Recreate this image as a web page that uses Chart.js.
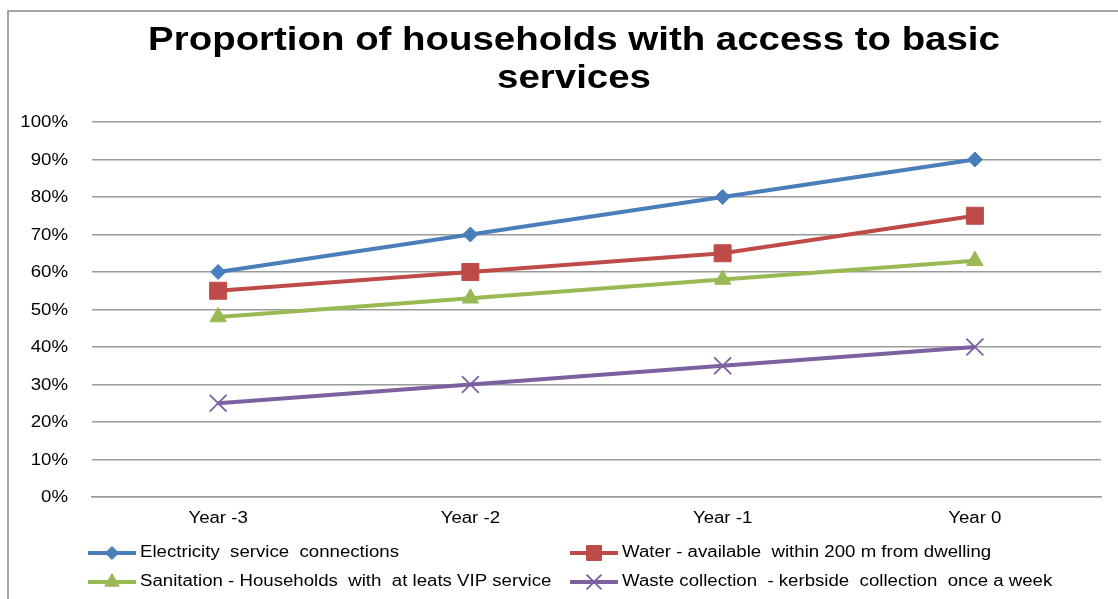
<!DOCTYPE html>
<html>
<head>
<meta charset="utf-8">
<script src="https://cdn.jsdelivr.net/npm/chart.js@4"></script>
<style>
	html, body { margin: 0; padding: 0; background: #fff; overflow: hidden; }
	#wrap { position: absolute; left: 0; top: 0; width: 1118px; height: 599px; }
	#frame { position: absolute; left: 7px; top: 10px; width: 1200px; height: 700px; border-left: 2px solid #a6a6a6; border-top: 2px solid #a6a6a6; }
</style>
</head>
<body>
<div id="frame"></div>
<div id="wrap"><canvas id="chart" width="1118" height="599"></canvas></div>
<script>
// categories and series
let years = ['Year -3', 'Year -2', 'Year -1', 'Year 0'];
let electricity = [60, 70, 80, 90];
let water = [55, 60, 65, 75];
let sanitation = [48, 53, 58, 63];
let waste = [25, 30, 35, 40];
let yTicks = [0, 10, 20, 30, 40, 50, 60, 70, 80, 90, 100];

let titleLines = ['Proportion of households with access to basic', 'services'];
let seriesLabels = [
	'Electricity  service  connections',
	'Water - available  within 200 m from dwelling',
	'Sanitation - Households  with  at leats VIP service',
	'Waste collection  - kerbside  collection  once a week'
];

let FONT = "'Liberation Sans', Arial, sans-serif";
// the original picture is squeezed a little, so its text runs wider than normal
let STRETCH = 1.165;

function series(label, data, color, style, radius, extra)
{
	return Object.assign({
		label: label,
		data: data,
		borderColor: color,
		backgroundColor: color,
		pointBackgroundColor: color,
		pointBorderColor: color,
		borderWidth: 4,
		pointStyle: style,
		pointRadius: radius,
		pointHoverRadius: radius,
		pointBorderWidth: 1,
		tension: 0
	}, extra || {});
}

function wideText(ctx, text, x, y, align, font, stretch)
{
	ctx.save();
	ctx.font = font;
	ctx.fillStyle = '#000';
	ctx.textAlign = align;
	ctx.textBaseline = 'middle';
	ctx.scale(stretch, 1);
	ctx.fillText(text, x / stretch, y);
	ctx.restore();
}

// title, tick labels and a two column legend, drawn with a horizontal stretch
let textLayer = {
	id: 'textLayer',
	afterDraw: function(chart)
	{
		let ctx = chart.ctx;

		titleLines.forEach((t, i) => {
			wideText(ctx, t, 574, 41 + i * 38, 'center', 'bold 34px ' + FONT, 1.13);
		});

		let ys = chart.scales.y;
		yTicks.forEach((v) => {
			wideText(ctx, v + '%', 68, ys.getPixelForValue(v) + 1, 'right', '16px ' + FONT, STRETCH);
		});

		let xs = chart.scales.x;
		years.forEach((y, i) => {
			wideText(ctx, y, xs.getPixelForValue(i), 519, 'center', '16px ' + FONT, STRETCH);
		});

		let cols = [88, 570];
		let rows = [553, 582];
		chart.data.datasets.forEach((ds, i) => {
			let x = cols[i % 2];
			let y = rows[Math.floor(i / 2)];
			ctx.save();
			ctx.strokeStyle = ds.borderColor;
			ctx.lineWidth = 4;
			ctx.beginPath();
			ctx.moveTo(x, y);
			ctx.lineTo(x + 48, y);
			ctx.stroke();
			ctx.fillStyle = ds.pointBackgroundColor;
			ctx.strokeStyle = ds.pointBorderColor;
			ctx.lineWidth = ds.pointBorderWidth;
			Chart.helpers.drawPoint(ctx, {
				pointStyle: ds.pointStyle,
				radius: ds.pointRadius * 0.88,
				rotation: 0,
				borderWidth: ds.pointBorderWidth
			}, x + 24, y);
			ctx.restore();
			wideText(ctx, ds.label, x + 52, y, 'left', '16px ' + FONT, STRETCH);
		});
	}
};

new Chart('chart', {
	type: 'line',
	data: {
		labels: years,
		datasets: [
			series(seriesLabels[0], electricity, '#4a7ebb', 'rectRot', 7.5),
			series(seriesLabels[1], water, '#be4b48', 'rect', 12),
			series(seriesLabels[2], sanitation, '#98b954', 'triangle', 9.5),
			series(seriesLabels[3], waste, '#7d60a0', 'crossRot', 12, { pointBorderWidth: 1.8 })
		]
	},
	options: {
		responsive: false,
		animation: false,
		events: [],
		layout: {
			padding: { left: 0, right: 17, top: 122, bottom: 0 }
		},
		scales: {
			x: {
				offset: true,
				grid: { display: false, drawTicks: false },
				border: { display: true, color: '#9a9a9a', width: 1.5 },
				ticks: { display: false },
				afterFit: function(scale) { scale.height = 102; }
			},
			y: {
				min: 0,
				max: 100,
				afterBuildTicks: function(scale) {
					scale.ticks = yTicks.map(v => ({ value: v }));
				},
				grid: { color: '#9a9a9a', lineWidth: 1.5, drawTicks: false },
				border: { display: false },
				ticks: { display: false },
				afterFit: function(scale) { scale.width = 92; }
			}
		},
		plugins: {
			legend: { display: false },
			tooltip: { enabled: false },
			title: { display: false }
		}
	},
	plugins: [textLayer]
});
</script>
</body>
</html>
